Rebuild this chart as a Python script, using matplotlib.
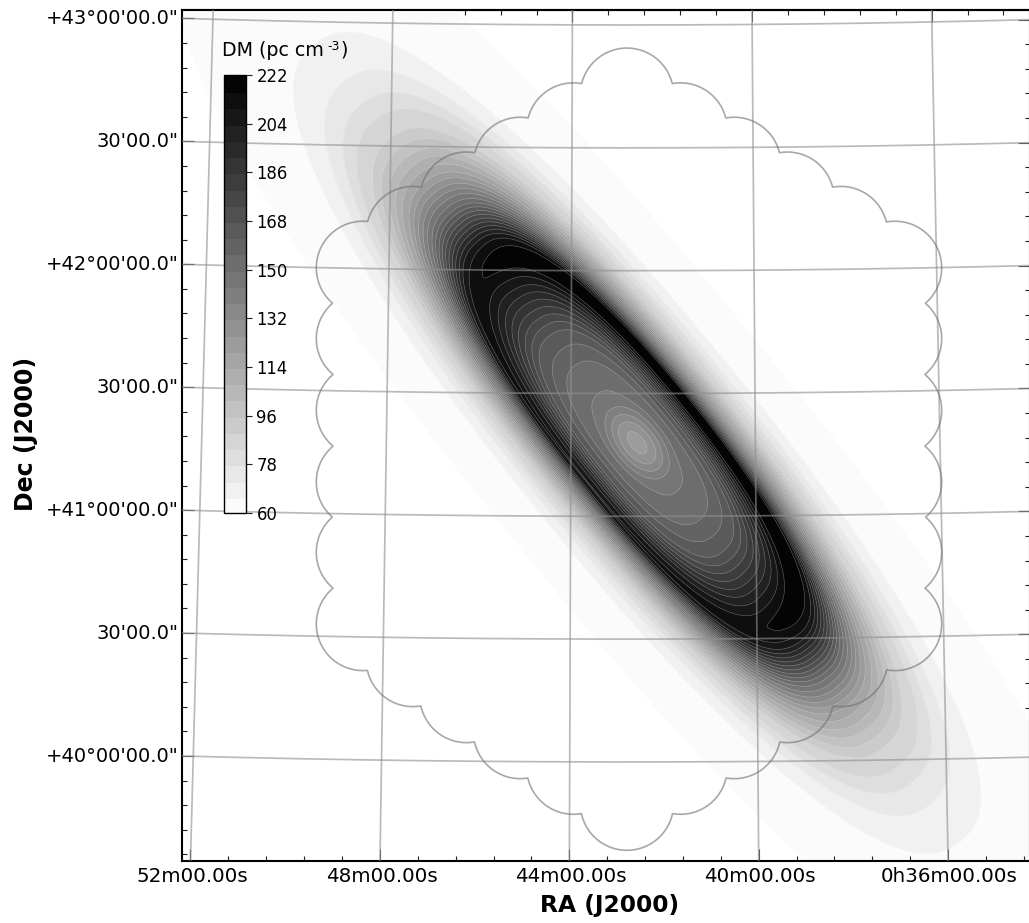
import numpy as np
import matplotlib
matplotlib.use('Agg')
import matplotlib.pyplot as plt
from matplotlib.path import Path
from matplotlib.transforms import ScaledTranslation

# ---- chart values ----
RA_MAJOR = [52, 48, 44, 40, 36]              # minutes of RA
RA_LABELS = ['52m00.00s', '48m00.00s', '44m00.00s', '40m00.00s', '0h36m00.00s']
RA_MINOR = [52.8, 51.2, 50.4, 49.6, 48.8, 47.2, 46.4, 45.6, 44.8, 43.2, 42.4, 41.6,
            40.8, 39.2, 38.4, 37.6, 36.8, 35.2, 34.4, 33.6]
DEC_MAJOR = [43.0, 42.5, 42.0, 41.5, 41.0, 40.5, 40.0]
DEC_LABELS = ['+43°00\'00.0"', '30\'00.0"', '+42°00\'00.0"', '30\'00.0"',
              '+41°00\'00.0"', '30\'00.0"', '+40°00\'00.0"']
DEC_MINOR = [42.9, 42.8, 42.7, 42.6, 42.4, 42.3, 42.2, 42.1, 41.9, 41.8, 41.7, 41.6,
             41.4, 41.3, 41.2, 41.1, 40.9, 40.8, 40.7, 40.6, 40.4, 40.3, 40.2, 40.1,
             39.9, 39.8, 39.7, 39.6]
DM_LEVELS = list(range(60, 223, 6))
DM_TICKS = [60, 78, 96, 114, 132, 150, 168, 186, 204, 222]

# DM against deprojected radius in the disc (arcmin)
DISC_R = [0, 14.7, 24.4, 34.2, 41.5, 47.5, 52, 55, 58, 62, 66, 73, 82, 90.4,
          95.5, 101.6, 106.5, 113.4, 124.8, 171, 195]
DISC_DM = [148, 150, 156, 168, 186, 201, 210, 215, 214, 205, 186, 152, 120, 100,
           90, 84, 78, 72, 66, 60, 55]
# Excess on the north-west side of the ring (arcmin, pc cm^-3)
SIDE_R = [0, 30, 46, 54, 64, 78, 200]
SIDE_DM = [0, 0, 4, 8, 6, 0, 0]
# Central bulge dip (arcmin, pc cm^-3)
BULGE_R = [0, 4.5, 7.5, 10, 13, 17, 200]
BULGE_DM = [-26, -21, -13, -6, -1, 0, 0]
# Apparent axis ratio of the disc against radius
RATIO_R = [0, 30, 55, 80, 130, 200]
RATIO_Q = [0.36, 0.34, 0.285, 0.255, 0.225, 0.22]

# Footprint lobe centres: offsets from the tangent point (arcmin)
LOBE_XI = [0.5, -12.6, -25.7, -38.7, -51.8, -65.0, -65.0, -65.0, -65.0, -65.0, -65.0,
           -51.8, -38.7, -25.7, -12.6, 0.5, 13.6, 26.6, 39.7, 52.8, 65.0, 65.0, 65.0,
           65.0, 65.0, 65.0, 52.8, 39.7, 26.6, 13.6]
LOBE_ETA = [86.8, 78.3, 69.9, 61.4, 53.0, 44.5, 27.2, 9.7, -7.8, -25.0, -42.5,
            -51.3, -60.1, -68.9, -77.6, -86.4, -77.6, -68.9, -60.1, -51.3, -42.5,
            -25.0, -7.8, 9.7, 27.2, 44.5, 53.0, 61.4, 69.9, 78.3]
LOBE_RADIUS = 11.39

# ---- sky projection (gnomonic) ----
RA0, DEC0 = 42.74, 41.27


def project(ra_min, dec_deg):
    da = np.radians((np.asarray(ra_min, float) - RA0) * 0.25)
    d = np.radians(dec_deg)
    d0 = np.radians(DEC0)
    den = np.sin(d0) * np.sin(d) + np.cos(d0) * np.cos(d) * np.cos(da)
    xi = np.cos(d) * np.sin(da) / den
    eta = (np.cos(d0) * np.sin(d) - np.sin(d0) * np.cos(d) * np.cos(da)) / den
    return np.degrees(xi), np.degrees(eta)


W, H = 1029, 923
fig = plt.figure(figsize=(W / 100, H / 100), dpi=100)
AX_L, AX_R, AX_T, AX_B = 182, 1030, 10, 861
ax = fig.add_axes([AX_L / W, 1 - AX_B / H, (AX_R - AX_L) / W, (AX_B - AX_T) / H])
SCALE = 245.6
X0, Y0 = 629, 450
xlim = ((X0 - AX_L) / SCALE, (X0 - AX_R) / SCALE)
ylim = ((Y0 - AX_B) / SCALE, (Y0 - AX_T) / SCALE)

# ---- DM field ----
xi_g = np.linspace(xlim[1], xlim[0], 1400)
eta_g = np.linspace(ylim[0], ylim[1], 1400)
XI, ETA = np.meshgrid(xi_g, eta_g)
CX, CY = -0.033, 0.029
AU = np.array([-0.63, -0.776])
AV = np.array([-0.776, 0.63])
u = ((XI - CX) * AU[0] + (ETA - CY) * AU[1]) * 60
v = ((XI - CX) * AV[0] + (ETA - CY) * AV[1]) * 60
r0 = np.hypot(u, v / 0.25)
Q = np.interp(r0, RATIO_R, RATIO_Q)
P = 2.4
r = (np.abs(u) ** P + np.abs(v / Q) ** P) ** (1 / P)
sin_t = (v / Q) / np.maximum(np.hypot(u, v / Q), 1e-6)
r_b = np.hypot(u, v / 0.55)
fine_r = np.linspace(0, 200, 801)
kern = np.ones(9) / 9
disc_fine = np.convolve(np.interp(fine_r, DISC_R, DISC_DM), kern, mode='same')
disc_fine[:5] = DISC_DM[0]
disc_fine[-5:] = DISC_DM[-1]
side_fine = np.convolve(np.interp(fine_r, SIDE_R, SIDE_DM), kern, mode='same')
bulge_fine = np.convolve(np.interp(fine_r, BULGE_R, BULGE_DM), kern, mode='same')
bulge_fine[:5] = BULGE_DM[0]
DM = (np.interp(r, fine_r, disc_fine)
      + np.interp(r, fine_r, side_fine) * (sin_t + 0.4)
      + np.interp(r_b, fine_r, bulge_fine))
DM = np.clip(DM, None, 221.9)

cf = ax.contourf(XI, ETA, DM, levels=DM_LEVELS, cmap='gray_r', vmin=60, vmax=222, zorder=1)
ax.contour(XI, ETA, DM, levels=DM_LEVELS, colors='white', linewidths=0.4, alpha=0.4, zorder=2)

# ---- coordinate grid ----
GRID = dict(color='#909090', lw=1.25, alpha=0.62, zorder=3)
decs = np.linspace(39.0, 44.0, 300)
ras = np.linspace(28, 58, 300)
for ra in RA_MAJOR:
    ax.plot(*project(np.full_like(decs, ra), decs), **GRID)
for dec in DEC_MAJOR:
    ax.plot(*project(ras, np.full_like(ras, dec)), **GRID)

# ---- footprint outline: union of beam circles ----
fx = np.linspace(-90, 90, 1400)
fy = np.linspace(-110, 110, 1700)
FX, FY = np.meshgrid(fx, fy)
field = np.full(FX.shape, np.inf)
for a, b in zip(LOBE_XI, LOBE_ETA):
    field = np.minimum(field, np.hypot(FX - a, FY - b) - LOBE_RADIUS)
inside = Path(np.column_stack([LOBE_XI, LOBE_ETA])).contains_points(
    np.column_stack([FX.ravel(), FY.ravel()])).reshape(FX.shape)
field[inside] = -1
ax.contour(FX / 60, FY / 60, field, levels=[0], colors='#6e6e6e', linewidths=1.2,
           alpha=0.6, zorder=4)


# ---- ticks where grid lines meet the frame ----
def ra_cross(ra, edge):
    x, y = project(np.full_like(decs, ra), decs)
    return float(np.interp(edge, y, x))


def dec_cross(dec, edge):
    x, y = project(ras, np.full_like(ras, dec))
    return float(np.interp(edge, x[::-1] if x[0] > x[-1] else x,
                           y[::-1] if x[0] > x[-1] else y))


def keep(vals, lim):
    lo, hi = min(lim), max(lim)
    return [t for t in vals if lo <= t <= hi]


MAJ = dict(direction='in', length=8.5, width=0.8, color='#404040')
MIN = dict(direction='in', length=3.8, width=0.8, color='#202020')

ax.set_xticks([ra_cross(t, ylim[0]) for t in RA_MAJOR])
ax.set_xticklabels(RA_LABELS)
ax.set_xticks(keep([ra_cross(t, ylim[0]) for t in RA_MINOR], xlim), minor=True)
ax.set_yticks([dec_cross(t, xlim[0]) for t in DEC_MAJOR])
ax.set_yticklabels(DEC_LABELS)
ax.set_yticks(keep([dec_cross(t, xlim[0]) for t in DEC_MINOR], ylim), minor=True)
ax.tick_params(axis='x', which='major', labelsize=14.3, pad=3, **MAJ)
ax.tick_params(axis='y', which='major', labelsize=14.0, pad=3, **MAJ)
ax.tick_params(which='minor', **MIN)
# Labels sit slightly off their ticks in the reference
shift_x = ScaledTranslation(1.5 / 100, -1.5 / 100, fig.dpi_scale_trans)
shift_y = ScaledTranslation(0.5 / 100, 1.5 / 100, fig.dpi_scale_trans)
for lab in ax.get_xticklabels():
    lab.set_transform(lab.get_transform() + shift_x)
for lab in ax.get_yticklabels():
    lab.set_transform(lab.get_transform() + shift_y)

top = ax.secondary_xaxis('top')
top.set_xticks(keep([ra_cross(t, ylim[1]) for t in RA_MAJOR], xlim))
top.set_xticks(keep([ra_cross(t, ylim[1]) for t in RA_MINOR], xlim), minor=True)
top.tick_params(which='major', labeltop=False, **MAJ)
top.tick_params(which='minor', **MIN)
right = ax.secondary_yaxis('right')
right.set_yticks(keep([dec_cross(t, xlim[1]) for t in DEC_MAJOR], ylim))
right.set_yticks(keep([dec_cross(t, xlim[1]) for t in DEC_MINOR], ylim), minor=True)
right.tick_params(which='major', labelright=False, **MAJ)
right.tick_params(which='minor', **MIN)

ax.set_xlim(xlim)
ax.set_ylim(ylim)
for s in list(ax.spines.values()) + [top.spines['top'], right.spines['right']]:
    s.set_linewidth(1.5)

ax.set_xlabel('RA (J2000)', fontsize=16.8, fontweight='bold')
ax.xaxis.set_label_coords(0.5045, -0.039)
ax.set_ylabel('Dec (J2000)', fontsize=17, fontweight='bold')
ax.yaxis.set_label_coords(-0.1697, 0.502)

# ---- colour bar ----
cax = fig.add_axes([224 / W, 1 - 513 / H, 22 / W, (513 - 75) / H], zorder=5)
cb = fig.colorbar(cf, cax=cax, ticks=DM_TICKS)
cb.solids.set_edgecolor('face')
cb.outline.set_linewidth(1.0)
cax.tick_params(length=4.5, width=0.8, labelsize=11.9, pad=3, color='#202020')
fig.text(222 / W, 1 - 50 / H, 'DM (pc cm', fontsize=13.7, ha='left', va='center')
fig.text(327.5 / W, 1 - 46.5 / H, '-3', fontsize=9, ha='left', va='center')
fig.text(340 / W, 1 - 50 / H, ')', fontsize=13.7, ha='left', va='center')

fig.savefig('out.png', dpi=100)
